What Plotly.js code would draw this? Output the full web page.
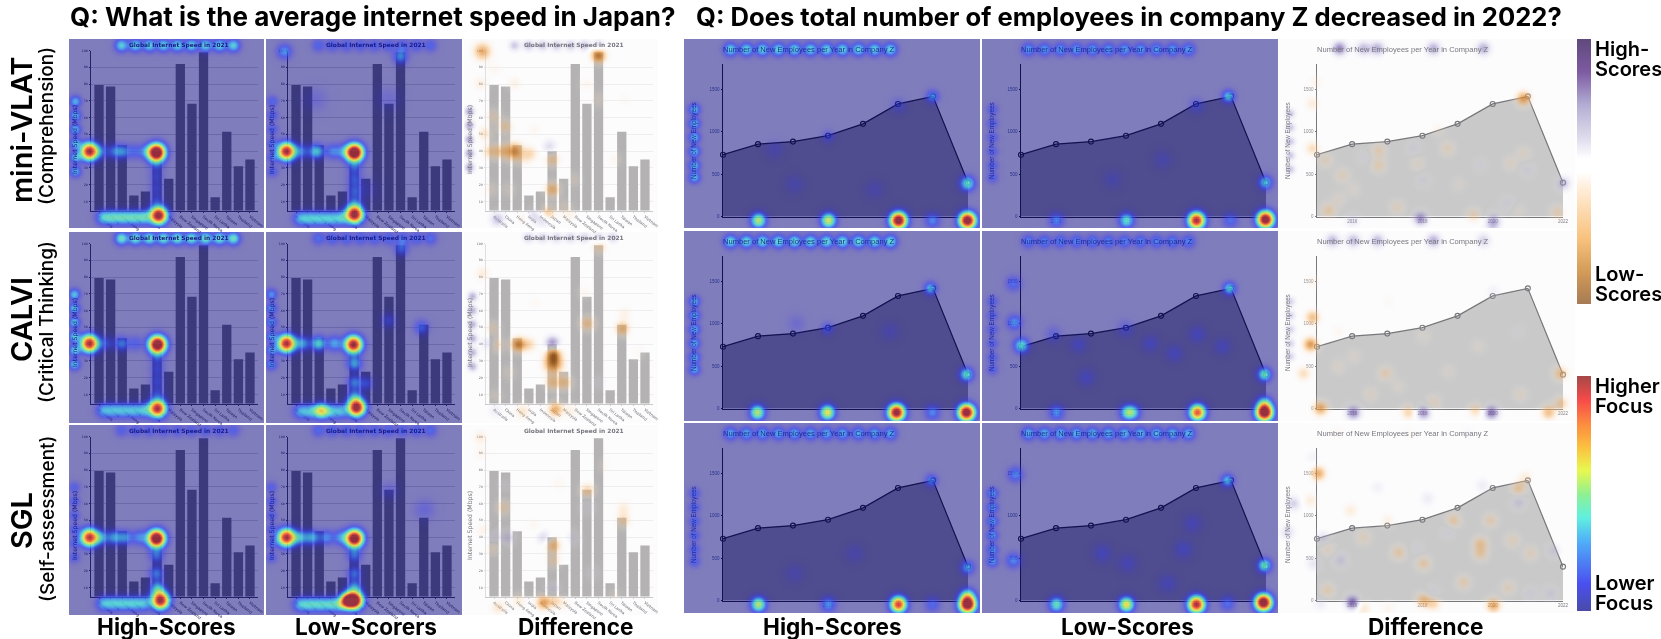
<!DOCTYPE html>
<html>
<head>
<meta charset="utf-8">
<script src="https://cdn.plot.ly/plotly-3.0.1.min.js"></script>
<style>
  html, body { margin: 0; padding: 0; background: #fff; }
  #chart { width: 1661px; height: 639px; }
  .cartesianlayer { filter: blur(0.45px); }
</style>
</head>
<body>
<div id="chart"></div>
<script>
// chart values
var countries = ["Australia","China","Hong Kong","India","Indonesia","Japan","Malaysia","New Zealand","Singapore","South Korea","Sri Lanka","Taiwan","Thailand","Vietnam"];
var speeds = [79.5,78.6,43.5,13.5,16,40,23.5,92,68.3,99,12.5,51.5,31,35];
var speedTicks = [10,20,30,40,50,60,70,80,90,100];
var years = [2015,2016,2017,2018,2019,2020,2021,2022];
var newEmployees = [730,855,885,955,1095,1330,1420,400];
var employeeTicks = [0,500,1000,1500];
var yearTicks = [2016,2018,2020,2022];

// fixation spots per panel: [x, y, strength, spread], x and y in pixels from the panel corner
function across(xs, y, a, s) { return xs.map(function(x){ return [x, y, a, s || 5]; }); }
function down(ys, x, a, s) { return ys.map(function(y){ return [x, y, a, s || 5]; }); }

var barTitleX = [52,66,80,94,108,122,136,150,164];
var barAxisY = [62,76,90,104,118,132];
var barLabelX = [34,44,54,64,74];
var lineTitleX = [46,62,78,94,110,126,142,158,174,190,206];
var lineAxisY = [70,84,98,112,126,138];

var spotsCompHigh = [[20,112,1.02,5.8],[87,113,1.3,5.8],[89,176,1.1,5.8],[50,112,.14]]
  .concat(across(barLabelX,178,.3), across(barTitleX,6,.32,4.4), down(barAxisY,6,.27,3.8), across([32,44,56,66,76],112,.12), down([125,137,149,161],87,.1));
var spotsCompLow = [[20,112,1.02,5.8],[88,113,1.3,5.8],[88,175,1.1,5.8],[50,112,.32],[35,112,.18],[66,112,.18],[76,112,.14],[18,12,.22,5],[134,17,.22,5],[49,60,.05,8],[122,60,.05,8],[100,150,.05,8]]
  .concat(across(barLabelX,179,.26), across(barTitleX,6,.14,4.4), down(barAxisY,6,.15,3.8), down([128,140,152,164],88,.14));
var spotsCritHigh = [[20,111,1,5.8],[88,112,1.25,5.8],[88,176,1,5.8],[52,111,.2],[36,111,.13],[66,111,.13]]
  .concat(across(barLabelX,178,.24), across(barTitleX,6,.38,4.4), down(barAxisY,5,.3,3.8), down([125,137,149,161],88,.11));
var spotsCritLow = [[20,111,1,5.8],[87,112,1.05,5.8],[90,175,1.1,5.8],[52,111,.34],[36,111,.24],[68,111,.24],[88,131,.26],[88,150,.2],[88,164,.18],[55,178,.34],[100,151,.12],[155,95,.16],[122,88,.1],[135,16,.16]]
  .concat(across(barLabelX,179,.24), across(barTitleX,6,.16,4.4), down(barAxisY,5,.22,3.8));
var spotsSglHigh = [[20,112,.95,5.8],[87,113,1.25,5.8],[91,175,1.05,5.8],[32,112,.22],[45,112,.24],[56,112,.22],[70,112,.2],[87,130,.18],[87,148,.2],[88,163,.28]]
  .concat(across(barLabelX,178,.26), across(barTitleX,5,.13,4.4), down(barAxisY,5,.13,3.8));
var spotsSglLow = [[20,112,1,5.8],[88,113,1.2,5.8],[88,175,1.15,5.8],[81,175,.8,5],[34,112,.26],[46,112,.26],[60,112,.2],[74,112,.2],[88,130,.18],[88,148,.18],[88,162,.22],[158,84,.07,7],[123,65,.06,6]]
  .concat(across(barLabelX,179,.28), across(barTitleX,5,.15,4.4), down(barAxisY,5,.13,3.8));

var spotsLineCompHigh = [[283,181,1.15,5.6],[214,181,1.15,5.6],[144,181,.55,5],[74,181,.5,5],[248,181,.2],[283,144,.36,5],[248,57,.22,4.2],[144,97,.1,4.2],[214,66,.08,5],[90,110,.05,6],[110,145,.05,6],[190,150,.05,6]]
  .concat(across(lineTitleX,10,.34,4.4), down(lineAxisY,10,.28,3.8));
var spotsLineCompLow = [[283,180,1.15,5.6],[214,181,1,5.6],[144,181,.36],[74,181,.2],[248,181,.16],[246,57,.3,4.2],[283,143,.3,4.6],[214,66,.09],[180,120,.05,6],[130,140,.05,6]]
  .concat(across(lineTitleX,10,.24,4.4), down(lineAxisY,10,.13,3.8));
var spotsLineCritHigh = [[282,181,1.15,5.6],[212,181,1.1,5.6],[143,181,.58,5],[73,181,.5,5],[248,181,.2],[282,143,.36,4.6],[246,57,.28,4.2],[143,97,.13,4.2],[112,92,.05,6],[205,100,.05,6]]
  .concat(across(lineTitleX,10,.36,4.4), down(lineAxisY,10,.26,3.8));
var spotsLineCritLow = [[282,181,1.2,5.6],[282,172,.3],[215,181,.85,5.4],[145,181,.36],[151,181,.24],[74,181,.22],[247,57,.32,4.2],[282,143,.38,4.6],[39,114,.34],[32,91,.22],[31,52,.16],[104,146,.08,5.5],[192,122,.08,5.5],[215,103,.08,5.5],[168,112,.08,5.5],[96,113,.08,5.5],[71,103,.08,5.5],[143,97,.08,5.5],[240,115,.07,5.5]]
  .concat(across(lineTitleX,10,.2,4.4), down(lineAxisY,10,.13,3.8));
var spotsLineSglHigh = [[283,181,1.2,5.6],[283,172,.34],[214,181,.9,5.4],[144,181,.22],[74,181,.5,5],[248,181,.15],[283,144,.24,4.6],[247,57,.2,4.2],[110,150,.05,6],[170,130,.05,6]]
  .concat(across(lineTitleX,10,.26,4.4), down(lineAxisY,10,.15,3.8));
var spotsLineSglLow = [[281,179,1.2,5.6],[214,181,1,5.6],[144,181,.6,5],[74,181,.38],[245,180,.16],[282,142,.38,4.6],[245,57,.28,4.2],[33,51,.2],[31,137,.2],[120,130,.08,6],[201,126,.08,6],[210,100,.07,6],[145,140,.07,6],[185,160,.07,6]]
  .concat(across(lineTitleX,10,.28,4.4), down(lineAxisY,10,.23,3.8));

var diffBarComp = [[18,12,-.6,6],[134,16,-.85,5],[50,112,-.75,6],[37,112,-.4],[26,112,-.35],[66,114,-.3],[88,120,-.35],[88,150,-.5],[83,174,-.45],[85,107,.25],[33,180,.35],[79,180,.3],[68,176,.25],[29,77,-.2],[50,44,-.15],[41,87,-.3],[20,94,-.25],[60,120,-.12],[134,60,-.12],[122,45,-.1],[16,44,-.18],[26,150,-.12],[100,168,-.12],[45,150,-.1],[70,90,-.1],[150,120,-.1],[110,140,-.1],[160,60,-.08],[30,30,-.1],[60,178,-.15],[105,176,-.12]]
  .concat(across([50,64,78,92,106,120,134],6,.34,4), down([72,86,100,114,128],5,.5,3.5));
var diffBarCrit = [[88,111,.6],[54,112,-.8],[31,112,-.35],[65,112,-.3],[89,131,-.85,6.5],[89,121,-.7],[88,150,-.4],[100,150,-.4],[158,96,-.5],[123,91,-.4],[160,81,-.15],[135,14,-.3],[18,41,-.2],[28,96,-.2],[31,164,-.1],[58,179,-.25],[91,177,-.6],[31,178,.15],[25,111,.3],[106,178,-.15],[120,60,-.1],[175,120,-.08],[70,70,-.08],[45,140,-.1],[135,150,.08]]
  .concat(across([64,78,92,106,120,134,148],5,.3,4), down([64,78,92,106,120,134],8,.45,3.5));
var diffBarSgl = [[29,112,.2],[43,112,.3],[79,112,.25],[109,112,.15],[123,82,.15],[88,165,.25],[128,148,.1],[89,120,-.5],[89,135,-.25],[39,82,-.25],[159,83,-.2],[123,65,-.35],[19,105,-.15],[29,122,-.2],[79,177,-.65],[34,182,-.25],[54,175,-.2],[94,58,-.1],[159,95,-.3],[16,12,-.2],[16,28,-.12],[90,175,-.35],[70,100,-.1],[140,40,-.08],[100,178,-.12],[150,170,-.08],[40,60,.06]];

var diffLineComp = [[61,9,.6],[99,9,.45],[85,9,.4],[155,9,.45],[205,9,.45],[245,59,-.65],[285,144,.35],[34,64,-.2],[34,109,-.3],[47,121,-.2],[64,136,-.2],[100,111,-.25],[100,126,-.25],[139,124,-.15],[169,109,-.2],[232,124,-.15],[245,114,-.15],[50,171,-.3],[119,168,-.2],[195,176,-.25],[279,173,-.25],[37,43,-.12],[85,118,.1],[135,109,.15],[145,141,.15],[202,126,.1],[249,131,.15],[229,164,.15],[74,181,.2],[142,179,.55],[215,181,.4],[214,188,.2],[75,150,-.1],[160,90,-.12],[60,160,-.12],[240,171,-.1],[180,145,-.08]]
  .concat(down([74,88,102,116,130],12,.35,3.5));
var diffLineCrit = [[54,9,.4],[75,9,.4],[99,9,.4],[155,9,.45],[205,9,.3],[34,86,-.5],[34,50,-.12],[32,113,-.7],[42,177,-.6],[75,181,.6],[145,181,.55],[213,181,.65],[130,181,-.35],[197,179,-.3],[270,181,-.5],[155,171,-.2],[107,142,-.25],[282,142,-.4],[25,142,-.3],[92,163,-.15],[242,163,-.15],[283,172,-.35],[60,100,-.1],[170,140,-.1],[110,70,-.08],[215,60,.12],[60,135,-.12],[145,105,-.1],[200,115,-.1],[240,100,.08],[75,125,-.1],[120,155,-.1]]
  .concat(down([70,84,98,112,125],12,.3,3.5));
var diffLineSgl = [[40,50,-.6],[32,77,-.2],[72,87,-.2],[109,97,-.15],[175,97,-.3],[212,97,-.25],[202,120,-.35],[202,130,-.3],[240,65,-.35],[247,54,-.2],[120,129,-.3],[145,140,-.3],[234,117,-.2],[252,130,-.2],[49,125,-.2],[85,114,-.2],[185,159,-.25],[230,164,-.2],[49,167,-.25],[145,177,-.45],[155,180,-.35],[215,182,-.6],[85,185,-.25],[74,179,.7],[15,80,.3],[9,109,.25],[45,115,.25],[62,137,.25],[35,140,.2],[99,64,.12],[149,75,.15],[240,79,.25],[204,62,.15],[275,127,.2],[252,170,.15],[272,170,.2],[155,169,.15],[42,180,.15],[139,125,.1],[169,109,.12],[34,34,.1],[110,185,-.12],[60,9,-.08],[130,9,-.08],[190,9,.06]];

// panel grid in page pixels
var barCols = [[69,264],[266,462],[464,658]];
var barRows = [[39,228],[232,423],[425,615]];
var lineCols = [[684,980],[982,1278],[1278,1575]];
var lineRows = [[39,228],[231,421],[423,613]];
var W = 1661, H = 639;

var hotScale = [[0,"rgba(40,40,255,0)"],[.05,"rgba(50,50,255,.22)"],[.13,"rgba(55,80,255,.6)"],[.22,"rgba(60,160,250,.72)"],[.32,"rgba(80,235,225,.78)"],[.43,"rgba(145,245,140,.84)"],[.56,"rgba(240,245,80,.88)"],[.7,"rgba(252,165,60,.92)"],[.85,"rgba(240,75,55,.92)"],[1,"rgba(155,45,55,.92)"]];
var diffScale = [[0,"rgba(140,80,25,.95)"],[.2,"rgba(225,140,50,.7)"],[.36,"rgba(250,190,120,.42)"],[.47,"rgba(254,235,215,.14)"],[.5,"rgba(255,255,255,0)"],[.53,"rgba(225,222,240,.14)"],[.64,"rgba(170,160,210,.42)"],[.8,"rgba(110,85,165,.72)"],[1,"rgba(70,35,115,.95)"]];
var hotBg = "#807dbd", diffBg = "#fcfcfd";
var hotInk = "#191a8a", diffInk = "#77767e";

var traces = [], shapes = [], annotations = [];
var layout = {
  width: W, height: H, showlegend: false, paper_bgcolor: "#fff", plot_bgcolor: "rgba(0,0,0,0)",
  margin: {l:0, r:0, t:0, b:0}, hovermode: false
};

function fx(px) { return px / W; }
function fy(px) { return 1 - px / H; }

function addText(text, x, y, size, color, opts) {
  var o = opts || {};
  annotations.push({
    text: text, xref: "paper", yref: "paper", x: fx(x), y: fy(y), showarrow: false,
    xanchor: o.anchor || "center", yanchor: "middle", textangle: o.angle || 0,
    font: {family: o.family || "Inter, sans-serif", size: size, color: color, weight: o.weight || 400}
  });
}

function addHeat(id, box, spots, isDiff) {
  var w = box[1] - box[0], h = box[3] - box[2];
  var xs = [], ys = [], z = [], i, j, k;
  for (i = 0; i <= w; i += 2) xs.push(i);
  for (j = 0; j <= h; j += 2) ys.push(j);
  for (j = 0; j < ys.length; j++) {
    var rowZ = [];
    for (i = 0; i < xs.length; i++) {
      var v = 0;
      for (k = 0; k < spots.length; k++) {
        var s = spots[k], sp = s[3] || 5;
        var dx = xs[i] - s[0], dy = ys[j] - s[1];
        v += s[2] * Math.exp(-(dx * dx + dy * dy) / (2 * sp * sp));
      }
      rowZ.push(v);
    }
    z.push(rowZ);
  }
  traces.push({
    type: "heatmap", x: xs, y: ys, z: z, xaxis: "x" + id, yaxis: "y" + id, zsmooth: "best",
    colorscale: isDiff ? diffScale : hotScale, zmin: isDiff ? -1 : 0, zmax: 1, showscale: false, hoverinfo: "skip"
  });
  layout["xaxis" + id] = {domain: [fx(box[0]), fx(box[1])], range: [0, w], visible: false, fixedrange: true, anchor: "y" + id};
  layout["yaxis" + id] = {domain: [fy(box[3]), fy(box[2])], range: [h, 0], visible: false, fixedrange: true, anchor: "x" + id};
}

function addPanelBg(box, isDiff) {
  shapes.push({type: "rect", xref: "paper", yref: "paper", layer: "below", x0: fx(box[0]), x1: fx(box[1]), y0: fy(box[3]), y1: fy(box[2]), fillcolor: isDiff ? diffBg : hotBg, line: {width: 0}});
}

function addBarPanel(id, box, spots, isDiff) {
  var ink = isDiff ? diffInk : hotInk;
  addPanelBg(box, isDiff);
  traces.push({type: "bar", x: countries, y: speeds, xaxis: "x" + id, yaxis: "y" + id, marker: {color: isDiff ? "#b4b2b2" : "#3c3a7d"}, hoverinfo: "skip"});
  layout["xaxis" + id] = {
    domain: [fx(box[0] + 22), fx(box[0] + 189)], range: [-0.69, 13.69], anchor: "y" + id, fixedrange: true, type: "category",
    tickvals: countries, ticktext: countries, tickangle: 38, tickfont: {family: "DejaVu Sans", size: 4, color: isDiff ? "#66656c" : "#15155c"},
    showline: true, linecolor: isDiff ? "#c9c9cd" : "#22226a", linewidth: 1, ticks: "outside", ticklen: 1.5, tickcolor: isDiff ? "#c9c9cd" : "#22226a", showgrid: false, automargin: false
  };
  layout["yaxis" + id] = {
    domain: [fy(box[2] + 171.5), fy(box[2] + 11.5)], range: [4.6, 100], anchor: "x" + id, fixedrange: true,
    tickvals: speedTicks, tickfont: {family: "DejaVu Sans", size: 3.2, color: isDiff ? "#66656c" : "#15155c"},
    showline: true, linecolor: isDiff ? "#dedee2" : "#22226a", linewidth: 1, ticks: "outside", ticklen: 1.5, tickcolor: isDiff ? "#dedee2" : "#22226a",
    showgrid: true, gridcolor: isDiff ? "#eeeef0" : "#6b69a8", gridwidth: 1, zeroline: false, automargin: false
  };
  addHeat(id + 20, box, spots, isDiff);
  addText("Global Internet Speed in 2021", box[0] + 110, box[2] + 6, 5.9, ink, {family: "DejaVu Sans", weight: 700});
  addText("Internet Speed (Mbps)", box[0] + 6, box[2] + 101, 6.2, ink, {family: "DejaVu Sans", angle: -90, weight: 400});
}

function addLinePanel(id, box, spots, isDiff) {
  var ink = isDiff ? diffInk : "#1e2a9c";
  addPanelBg(box, isDiff);
  traces.push({
    type: "scatter", mode: "lines+markers", x: years, y: newEmployees, xaxis: "x" + id, yaxis: "y" + id, cliponaxis: false,
    fill: "tozeroy", fillcolor: isDiff ? "#c9c9c9" : "#4f4c8f",
    line: {color: isDiff ? "#77767a" : "#12124e", width: 1.2},
    marker: {symbol: "circle-open", size: 5, color: isDiff ? "#77767a" : "#12124e", line: {width: 1.1}}, hoverinfo: "skip"
  });
  var inset = box[1] - box[0] < 297 ? 284 : 285;
  layout["xaxis" + id] = {
    domain: [fx(box[0] + 39), fx(box[0] + inset)], range: [2015, 2022], anchor: "y" + id, fixedrange: true,
    tickvals: yearTicks, tickformat: "d", tickfont: {family: "Liberation Sans", size: 4.5, color: isDiff ? "#77767e" : "#25308c"},
    showline: true, linecolor: isDiff ? "#77767a" : "#12124e", linewidth: 1, ticks: "", showgrid: false, zeroline: false, automargin: false
  };
  layout["yaxis" + id] = {
    domain: [fy(box[2] + 177.5), fy(box[2] + 25)], range: [0, 1802], anchor: "x" + id, fixedrange: true,
    tickvals: employeeTicks, tickfont: {family: "Liberation Sans", size: 4.5, color: isDiff ? "#8a898e" : "#25308c"},
    showline: true, linecolor: isDiff ? "#77767a" : "#12124e", linewidth: 1, ticks: "outside", ticklen: 1.5, tickcolor: isDiff ? "#77767a" : "#12124e", showgrid: false, zeroline: false, automargin: false
  };
  addHeat(id + 20, box, spots, isDiff);
  addText("Number of New Employees per Year in Company Z", box[0] + 125, box[2] + 10, 7.55, ink, {family: "Liberation Sans"});
  addText("Number of New Employees", box[0] + 10, box[2] + 102, 6.3, ink, {family: "Liberation Sans", angle: -90});
}

// headings go first, the small panel texts are softened afterwards
var headings = [
  ["Q: What is the average internet speed in Japan?", 373, 16, 26, 0, 700],
  ["Q: Does total number of employees in company Z decreased in 2022?", 1129, 16, 25.6, 0, 700],
  ["mini-VLAT", 21, 130, 29, -90, 600],
  ["(Comprehension)", 47, 126, 19, -90, 500],
  ["CALVI", 21, 320, 29, -90, 600],
  ["(Critical Thinking)", 47, 322, 19, -90, 500],
  ["SGL", 21, 521, 29, -90, 600],
  ["(Self-assessment)", 47, 519, 19, -90, 500],
  ["High-Scores", 166, 626, 22.6, 0, 700],
  ["Low-Scorers", 366, 626, 22.6, 0, 700],
  ["Difference", 575, 626, 22.6, 0, 700],
  ["High-Scores", 832, 626, 22.6, 0, 700],
  ["Low-Scores", 1127, 626, 22.6, 0, 700],
  ["Difference", 1425, 626, 22.6, 0, 700]
];
headings.forEach(function(t) { addText(t[0], t[1], t[2], t[3], "#000", {angle: t[4], weight: t[5]}); });

var legendWords = [["High-",49],["Scores",69],["Low-",274],["Scores",294],["Higher",386],["Focus",406],["Lower",583],["Focus",603]];
legendWords.forEach(function(t) { addText(t[0], 1593, t[1], 20, "#000", {anchor: "left", weight: 600}); });
var headCount = annotations.length;

var barSpots = [[spotsCompHigh,spotsCompLow,diffBarComp],[spotsCritHigh,spotsCritLow,diffBarCrit],[spotsSglHigh,spotsSglLow,diffBarSgl]];
var lineSpots = [[spotsLineCompHigh,spotsLineCompLow,diffLineComp],[spotsLineCritHigh,spotsLineCritLow,diffLineCrit],[spotsLineSglHigh,spotsLineSglLow,diffLineSgl]];
var id = 10, r, c;
for (r = 0; r < 3; r++) {
  for (c = 0; c < 3; c++) {
    addBarPanel(id++, [barCols[c][0], barCols[c][1], barRows[r][0], barRows[r][1]], barSpots[r][c], c == 2);
  }
}
for (r = 0; r < 3; r++) {
  for (c = 0; c < 3; c++) {
    addLinePanel(id++, [lineCols[c][0], lineCols[c][1], lineRows[r][0], lineRows[r][1]], lineSpots[r][c], c == 2);
  }
}

// the two colour keys
var keyLevels = [[0],[.1],[.2],[.3],[.4],[.5],[.6],[.7],[.8],[.9],[1]];
var scoreKey = [[0,"#a47a55"],[.12,"#d39a58"],[.25,"#f8c27e"],[.35,"#fcd9ae"],[.45,"#fff0e0"],[.5,"#ffffff"],[.55,"#ffffff"],[.62,"#e2e0ee"],[.75,"#b5aed4"],[.88,"#7d5aa2"],[1,"#5f4a7c"]];
var focusKey = [[0,"#4a4aa8"],[.12,"#4a50f0"],[.3,"#50b0f8"],[.4,"#60f0e0"],[.5,"#90f090"],[.6,"#e8f850"],[.7,"#fcc040"],[.8,"#fc8a40"],[.9,"#f84a4a"],[1,"#a84848"]];
[[50,39,304,scoreKey],[51,376,611,focusKey]].forEach(function(k) {
  traces.push({type: "heatmap", z: keyLevels, xaxis: "x" + k[0], yaxis: "y" + k[0], colorscale: k[3], zmin: 0, zmax: 1, zsmooth: "best", showscale: false, hoverinfo: "skip"});
  layout["xaxis" + k[0]] = {domain: [fx(1577), fx(1591)], visible: false, fixedrange: true, anchor: "y" + k[0]};
  layout["yaxis" + k[0]] = {domain: [fy(k[2]), fy(k[1])], visible: false, fixedrange: true, anchor: "x" + k[0], range: [0, 10]};
});

layout.shapes = shapes;
layout.annotations = annotations;

Plotly.newPlot("chart", traces, layout, {displayModeBar: false, staticPlot: true}).then(function(gd) {
  gd.querySelectorAll(".annotation").forEach(function(a) {
    if (+a.getAttribute("data-index") >= headCount) a.style.filter = "blur(0.45px)";
  });
});
</script>
</body>
</html>
